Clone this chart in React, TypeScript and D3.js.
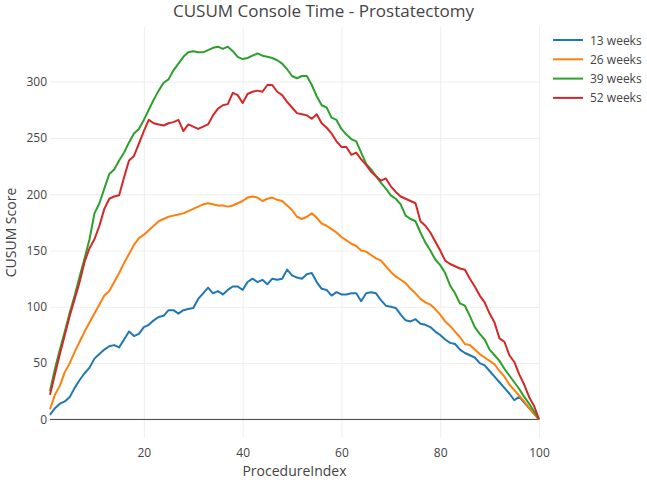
import * as d3 from 'd3'
import { useRef, useEffect } from 'react'

const series = ['13 weeks', '26 weeks', '39 weeks', '52 weeks']
const colors = ['#1f77b4', '#ff7f0e', '#2ca02c', '#d62728']

const weeks13 = [4, 10, 14, 16, 20, 28, 35, 41, 46, 54, 58, 62, 65, 66, 64, 71, 78, 74, 76, 82,
  84, 88, 91, 92, 97, 97, 94, 97, 98, 99, 107, 112, 117, 112, 114, 111, 115, 118, 118, 115,
  122, 125, 122, 124, 120, 125, 124, 125, 133, 128, 126, 125, 129, 130, 122, 116, 115, 110, 113, 111,
  111, 112, 112, 105, 112, 113, 112, 106, 101, 100, 99, 93, 88, 87, 89, 85, 84, 82, 78, 75,
  71, 68, 67, 62, 59, 57, 55, 50, 48, 43, 38, 33, 28, 23, 17, 20, 15, 10, 5, 0]
const weeks26 = [9, 22, 30, 42, 50, 60, 69, 78, 86, 94, 102, 110, 114, 122, 130, 139, 147, 155, 161, 164,
  168, 172, 176, 178, 180, 181, 182, 183, 185, 187, 189, 191, 192, 191, 190, 190, 189, 190, 192, 194,
  197, 198, 197, 194, 196, 197, 195, 194, 190, 186, 180, 178, 180, 183, 179, 174, 172, 169, 166, 162,
  159, 156, 154, 150, 149, 146, 143, 141, 136, 131, 127, 124, 121, 116, 112, 107, 104, 102, 98, 93,
  87, 83, 78, 73, 67, 66, 62, 58, 55, 52, 49, 43, 38, 31, 26, 21, 16, 10, 5, 0]
const weeks39 = [25, 45, 62, 78, 95, 110, 127, 143, 160, 183, 192, 205, 218, 222, 230, 237, 246, 254, 258, 266,
  275, 284, 292, 299, 302, 310, 316, 322, 326, 327, 326, 326, 328, 330, 331, 329, 331, 327, 322, 320,
  321, 323, 325, 323, 322, 321, 319, 316, 311, 305, 303, 305, 305, 297, 287, 279, 277, 268, 266, 258,
  253, 249, 247, 237, 227, 222, 216, 210, 205, 199, 196, 191, 181, 178, 176, 166, 157, 150, 142, 137,
  130, 119, 112, 103, 101, 92, 82, 76, 71, 62, 57, 52, 45, 39, 33, 27, 20, 14, 7, 0]
const weeks52 = [22, 40, 58, 75, 92, 107, 122, 140, 152, 160, 172, 187, 196, 198, 199, 215, 230, 234, 245, 256,
  266, 263, 262, 261, 263, 264, 266, 256, 262, 260, 258, 260, 262, 270, 276, 279, 280, 290, 288, 281,
  289, 291, 292, 291, 297, 297, 291, 288, 282, 277, 272, 271, 270, 267, 271, 263, 259, 254, 247, 242,
  242, 235, 237, 231, 226, 220, 216, 212, 214, 207, 202, 198, 196, 194, 192, 176, 172, 166, 158, 150,
  141, 138, 136, 134, 133, 125, 118, 110, 104, 94, 86, 72, 69, 57, 51, 40, 31, 20, 12, 0]

const values = [weeks13, weeks26, weeks39, weeks52]
const xTicks = [20, 40, 60, 80, 100]
const yTicks = [0, 50, 100, 150, 200, 250, 300]

const width = 647
const height = 480
const margin = { top: 27, right: 108, bottom: 42, left: 50 }
const font = '"Open Sans", verdana, arial, sans-serif'

const App = () => {
  const xScale = d3.scaleLinear()
    .domain([1, 100])
    .range([margin.left, width - margin.right])

  const yScale = d3.scaleLinear()
    .domain([-16.5, 348.5])
    .range([height - margin.bottom, margin.top])

  const line = d3.line<number>()
    .x((d, i) => xScale(i + 1))
    .y(d => yScale(d))

  const xAxis = useRef<SVGGElement>(null)
  const yAxis = useRef<SVGGElement>(null)

  useEffect(() => {
    const plotH = height - margin.bottom - margin.top
    const plotW = width - margin.right - margin.left

    const gx = d3.select(xAxis.current)
    gx.call(d3.axisBottom(xScale).tickValues(xTicks).tickSize(-plotH).tickPadding(10).tickFormat(d3.format('d')))
    gx.select('.domain').remove()
    gx.selectAll('.tick line').attr('stroke', '#eee')
    gx.selectAll('.tick text').attr('fill', '#444').attr('font-size', 12).attr('font-family', font)

    const gy = d3.select(yAxis.current)
    gy.call(d3.axisLeft(yScale).tickValues(yTicks).tickSize(-plotW).tickPadding(3).tickFormat(d3.format('d')))
    gy.select('.domain').remove()
    gy.selectAll('.tick line').attr('stroke', '#eee')
    gy.selectAll('.tick text').attr('fill', '#444').attr('font-size', 12).attr('font-family', font)
  })

  return (
    <div style={{ position: 'absolute', left: 0, top: 0 }}>
      <svg width={width} height={height} style={{ display: 'block', background: '#fff' }}>
        <g ref={xAxis} transform={`translate(0, ${height - margin.bottom})`} />
        <g ref={yAxis} transform={`translate(${margin.left}, 0)`} />
        <line
          x1={margin.left} x2={width - margin.right}
          y1={yScale(0)} y2={yScale(0)}
          stroke="#444" strokeWidth={1}
        />
        {values.map((v, k) => (
          <path key={series[k]} d={line(v) || ''} fill="none" stroke={colors[k]}
            strokeWidth={2} strokeLinejoin="round" />
        ))}
        <text x={width / 2} y={17} textAnchor="middle" fontFamily={font} fontSize={17} fill="#444">
          CUSUM Console Time - Prostatectomy
        </text>
        <text x={(margin.left + width - margin.right) / 2} y={476} textAnchor="middle"
          fontFamily={font} fontSize={14} fill="#444">
          ProcedureIndex
        </text>
        <text transform={`translate(16, ${(margin.top + height - margin.bottom) / 2}) rotate(-90)`}
          textAnchor="middle" fontFamily={font} fontSize={14} fill="#444">
          CUSUM Score
        </text>
        {series.map((s, k) => (
          <g key={s} transform={`translate(553, ${40 + k * 19.3})`}>
            <line x1={0} x2={30} y1={0} y2={0} stroke={colors[k]} strokeWidth={2} />
            <text x={37} y={4.5} fontFamily={font} fontSize={12} fill="#444">{s}</text>
          </g>
        ))}
      </svg>
    </div>
  )
}

export default App
